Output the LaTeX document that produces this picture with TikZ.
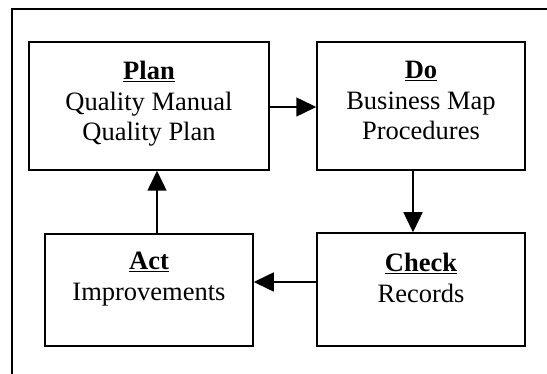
\documentclass[tikz,border=0pt]{standalone}
\usepackage{fontspec}
\setmainfont{Liberation Serif}
\usetikzlibrary{arrows.meta}
\tikzset{
  box/.style={draw, line width=1.5pt, rectangle, inner sep=0pt},
  txt/.style={align=center, inner sep=0pt, anchor=north, font=\fontsize{26.5}{30.5}\selectfont},
  arr/.style={line width=1.5pt, -{Triangle[length=20pt,width=19pt]}},
  frame/.style={line width=1.5pt}
}
\begin{document}
\begin{tikzpicture}[x=1pt,y=-1pt]
\useasboundingbox (0,0) rectangle (547,374);
\draw[frame] (12,380) -- (12,9) -- (550,9);
\node[box, minimum width=240pt, minimum height=128pt] (plan) at (149,106) {};
\node[box, minimum width=208pt, minimum height=128pt] (do) at (421,106) {};
\node[box, minimum width=208pt, minimum height=113pt] (check) at (421,289.5) {};
\node[box, minimum width=208pt, minimum height=112pt] (act) at (149,290) {};
\node[txt] (plant) at (149,61) {\underline{\textbf{Plan}}\\Quality Manual\\Quality Plan};
\node[txt] (dot) at (421,61) {\underline{\textbf{Do}}\\Business Map\\Procedures};
\node[txt] (checkt) at (421,253) {\underline{\textbf{Check}}\\Records};
\node[txt] (actt) at (149,252) {\underline{\textbf{Act}}\\Improvements};
\draw[arr] ([yshift=-1pt]plan.east) -- ([yshift=-1pt]do.west);
\draw[arr] ([xshift=-8pt]do.south) -- ([xshift=-8pt]check.north);
\draw[arr] ([yshift=7.5pt]check.west) -- ([yshift=8pt]act.east);
\draw[arr] ([xshift=8pt]act.north) -- ([xshift=8pt]plan.south);
\end{tikzpicture}
\end{document}
